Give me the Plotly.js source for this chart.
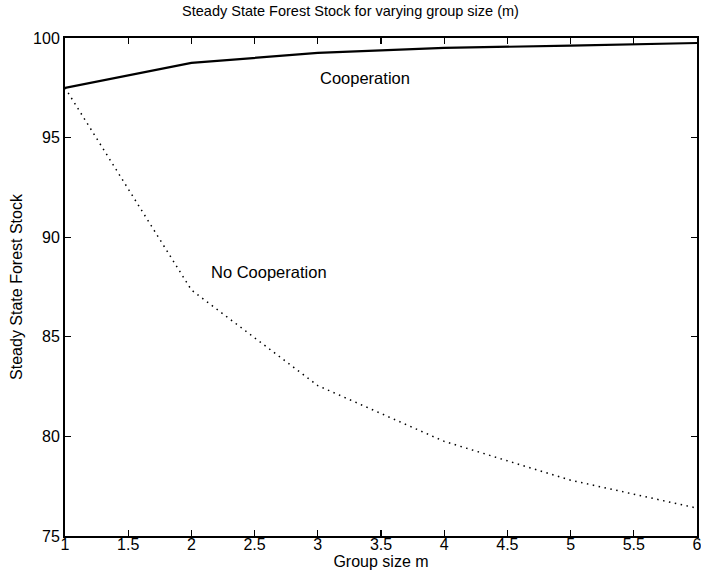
<!DOCTYPE html>
<html>
<head>
<meta charset="utf-8">
<script src="https://cdn.plot.ly/plotly-3.0.1.min.js"></script>
<style>html,body{margin:0;padding:0;background:#fff;}#chart{width:701px;height:576px;}</style>
</head>
<body>
<div id="chart"></div>
<script>
// Group size m
const groupSize = [1, 2, 3, 4, 5, 6];
// Steady state forest stock with cooperation
const cooperation = [97.5, 98.75, 99.25, 99.5, 99.62, 99.75];
// Steady state forest stock without cooperation
const noCooperation = [97.5, 87.35, 82.55, 79.75, 77.8, 76.4];
const xTicks = [1, 1.5, 2, 2.5, 3, 3.5, 4, 4.5, 5, 5.5, 6];
const yTicks = [75, 80, 85, 90, 95, 100];

const fam = 'Liberation Sans, Arial, sans-serif';
const f = size => ({family: fam, size: size, color: '#000'});

const traces = [
  {x: groupSize, y: cooperation, mode: 'lines', line: {color: '#000', width: 2.2}, hoverinfo: 'skip'},
  {x: groupSize, y: noCooperation, mode: 'lines', line: {color: '#000', width: 1.5, dash: '1.5px,4.5px'}, hoverinfo: 'skip'}
];

const axisCommon = {
  ticks: 'inside', ticklen: 6, tickwidth: 1.3, tickcolor: '#000',
  showline: true, linecolor: '#000', linewidth: 2, mirror: 'ticks',
  showgrid: false, zeroline: false,
  tickfont: f(16), ticklabeloverflow: 'allow'
};

const layout = {
  width: 701, height: 576,
  margin: {l: 65, r: 4, t: 38, b: 40},
  paper_bgcolor: '#fff', plot_bgcolor: '#fff',
  showlegend: false,
  font: f(14),
  title: {text: 'Steady State Forest Stock for varying group size (m)', font: f(14.5), x: 0.5, xanchor: 'center', y: 0.99, yanchor: 'top'},
  xaxis: Object.assign({}, axisCommon, {
    range: [1, 6], tickvals: xTicks, ticktext: xTicks.map(String),
    ticklabelstandoff: -7,
    title: {text: 'Group size m', font: f(16), standoff: 0}
  }),
  yaxis: Object.assign({}, axisCommon, {
    range: [75, 100], tickvals: yTicks, ticktext: yTicks.map(String),
    title: {text: 'Steady State Forest Stock', font: f(16), standoff: 6}
  }),
  annotations: [
    {x: 3.373, y: 98.0, xref: 'x', yref: 'y', text: 'Cooperation', showarrow: false, font: f(16.5)},
    {x: 2.614, y: 88.25, xref: 'x', yref: 'y', text: 'No Cooperation', showarrow: false, font: f(16.5)}
  ]
};

Plotly.newPlot('chart', traces, layout, {staticPlot: true, displayModeBar: false});
</script>
</body>
</html>
